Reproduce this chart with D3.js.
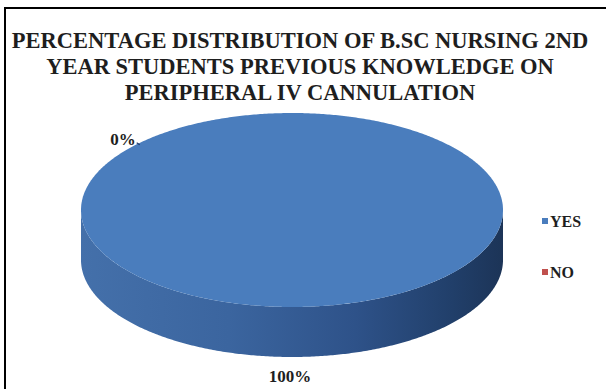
<!DOCTYPE html>
<html>
<head>
<meta charset="utf-8">
<script src="https://cdn.jsdelivr.net/npm/d3@7"></script>
<style>
  html, body { margin: 0; padding: 0; background: #fff; }
  svg { display: block; }
</style>
</head>
<body>
<svg id="chart" width="606" height="389"></svg>
<script>
// Chart data
const titleLines = [
  "PERCENTAGE DISTRIBUTION OF B.SC NURSING 2ND",
  "YEAR STUDENTS PREVIOUS KNOWLEDGE ON",
  "PERIPHERAL IV CANNULATION"
];
const categories = ["YES", "NO"];
const values = [100, 0];
const colors = ["#4a7dbd", "#c0504d"];

const FONT = "'Liberation Serif'";

const svg = d3.select("#chart");
const W = 606, H = 389;

// Outer frame
svg.append("rect").attr("x", 5).attr("y", 8).attr("width", W + 10).attr("height", H + 10)
  .attr("fill", "#fff").attr("stroke", "#000").attr("stroke-width", 2);

function label(sel) {
  return sel.style("font-family", FONT)
    .attr("font-weight", "bold").attr("fill", "#1e1e1e");
}

// Title
const title = svg.append("g");
titleLines.forEach((t, i) => {
  label(title.append("text"))
    .attr("x", 300).attr("y", 48 + i * 26)
    .attr("text-anchor", "middle")
    .attr("font-size", 22.5)
    .text(t);
});

// 3D pie geometry
const cx = 292, cy = 210, rx = 211, ry = 97, depth = 50;
const startA = -47 * Math.PI / 180;

const pie = d3.pie().sort(null).value(d => d)
  .startAngle(startA).endAngle(startA + 2 * Math.PI);
const arcs = pie(values);

const pt = (a, dy = 0) => [cx + rx * Math.sin(a), cy - ry * Math.cos(a) + dy];
const line = d3.line();

function sample(a0, a1, dy) {
  const n = Math.max(2, Math.ceil(Math.abs(a1 - a0) / 0.01));
  return d3.range(n + 1).map(i => pt(a0 + (a1 - a0) * i / n, dy));
}

const defs = svg.append("defs");
const sideGrad = defs.append("linearGradient").attr("id", "side")
  .attr("gradientUnits", "userSpaceOnUse")
  .attr("x1", cx - rx).attr("x2", cx + rx).attr("y1", 0).attr("y2", 0);
[[0, "#4470aa"], [0.35, "#3b659f"], [0.65, "#2e5289"], [0.88, "#213f6a"], [1, "#1c3457"]]
  .forEach(([o, c]) => sideGrad.append("stop").attr("offset", o).attr("stop-color", c));

// Side walls: the visible front half (pie angles between 90° and 270°)
const g = svg.append("g");
arcs.forEach((d, i) => {
  if (d.endAngle - d.startAngle <= 0) return;
  const ranges = [];
  for (let k = -1; k <= 1; k++) {
    const lo = Math.PI / 2 + 2 * Math.PI * k, hi = 3 * Math.PI / 2 + 2 * Math.PI * k;
    const a0 = Math.max(lo, d.startAngle), a1 = Math.min(hi, d.endAngle);
    if (a1 > a0) ranges.push([a0, a1]);
  }
  ranges.forEach(([a0, a1]) => {
    const top = sample(a0, a1, 0);
    const bot = sample(a1, a0, depth);
    g.append("path")
      .attr("d", line(top.concat(bot)) + "Z")
      .attr("fill", i === 0 ? "url(#side)" : d3.color(colors[i]).darker(0.8));
  });
});

// Top faces
arcs.forEach((d, i) => {
  if (d.endAngle - d.startAngle <= 0) return;
  const full = d.endAngle - d.startAngle >= 2 * Math.PI - 1e-9;
  const p = sample(d.startAngle, d.endAngle, 0);
  const path = full ? line(p) + "Z" : "M" + cx + "," + cy + line(p).replace("M", "L") + "Z";
  g.append("path").attr("d", path).attr("fill", colors[i]);
});

// Data labels
const total = d3.sum(values);
const pct = v => Math.round(v / total * 100) + "%";
const noArc = arcs[1];
const np = pt(noArc.startAngle);
label(svg.append("text")).attr("x", np[0] - 2).attr("y", np[1] + 1)
  .attr("text-anchor", "end").attr("font-size", 17).text(pct(values[1]));
svg.append("line").attr("x1", np[0] - 1).attr("y1", np[1] - 1).attr("x2", np[0] + 2).attr("y2", np[1] + 1)
  .attr("stroke", "#1f3a6a").attr("stroke-width", 1.2);
label(svg.append("text")).attr("x", cx - 2).attr("y", cy + ry + depth + 25)
  .attr("text-anchor", "middle").attr("font-size", 17).text(pct(values[0]));

// Legend
const legend = svg.append("g").attr("transform", "translate(542,0)");
categories.forEach((c, i) => {
  const y = 221 + i * 51;
  legend.append("rect").attr("x", 0).attr("y", y - 3).attr("width", 6).attr("height", 6).attr("fill", colors[i]);
  label(legend.append("text")).attr("x", 8).attr("y", y + 5.5).attr("font-size", 16).text(c);
});
</script>
</body>
</html>
